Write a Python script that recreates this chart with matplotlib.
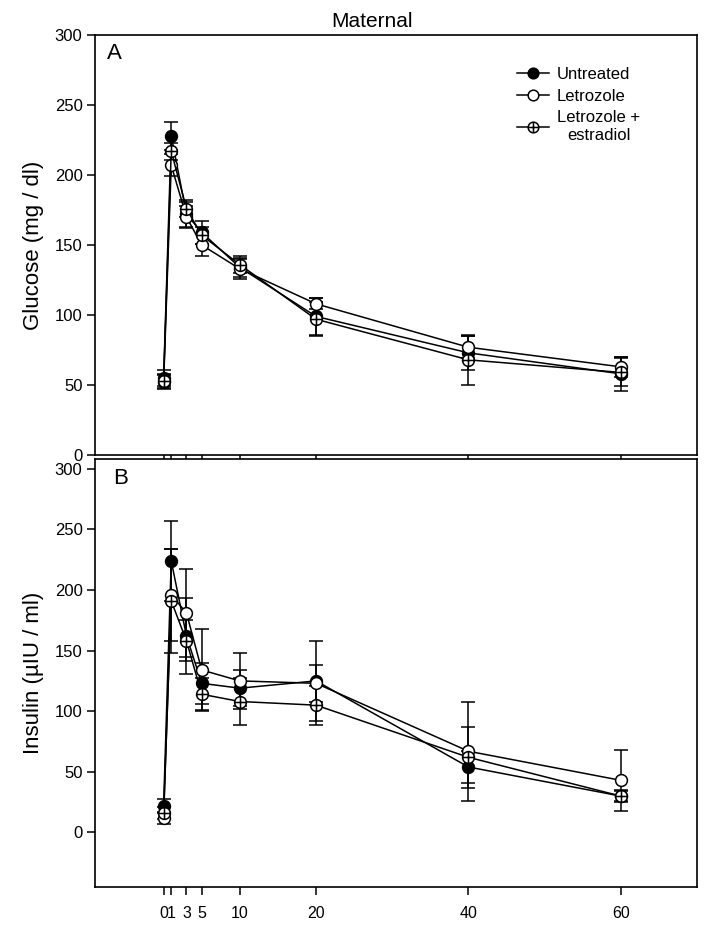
import matplotlib
matplotlib.use("Agg")
import matplotlib.pyplot as plt
from matplotlib.path import Path
from matplotlib.markers import MarkerStyle

plt.rcParams["font.family"] = ["Liberation Sans", "DejaVu Sans"]

# время (мин)
times = [0, 1, 3, 5, 10, 20, 40, 60]
tick_labels = ["0", "1", "3", "5", "10", "20", "40", "60"]

# Глюкоза (mg/dl)
glu_untreated = [55, 228, 172, 159, 134, 99, 73, 58]
glu_untreated_err = [6, 10, 9, 8, 7, 13, 12, 12]
glu_letrozole = [52, 207, 170, 150, 133, 108, 77, 63]
glu_letrozole_err = [5, 8, 8, 8, 7, 4, 8, 7]
glu_let_estr = [53, 217, 176, 157, 136, 97, 68, 59]
glu_let_estr_err = [5, 6, 6, 6, 6, 12, 18, 10]

# Инсулин (µIU/ml)
ins_untreated = [22, 224, 162, 123, 119, 125, 54, 30]
ins_untreated_err = [6, 33, 31, 17, 15, 33, 13, 4]
ins_letrozole = [12, 196, 181, 134, 125, 123, 67, 43]
ins_letrozole_err = [5, 38, 36, 34, 23, 15, 41, 25]
ins_let_estr = [16, 191, 158, 114, 108, 105, 62, 30]
ins_let_estr_err = [5, 43, 17, 13, 19, 16, 25, 5]

labels = ["Untreated", "Letrozole", "Letrozole +\nestradiol"]

# маркер "круг с крестом"
cross = Path([[-1, 0], [1, 0], [0, -1], [0, 1]],
             [Path.MOVETO, Path.LINETO, Path.MOVETO, Path.LINETO])
oplus = MarkerStyle(Path.make_compound_path(Path.unit_circle(), cross))

styles = [
    dict(marker="o", mfc="black"),
    dict(marker="o", mfc="white"),
    dict(marker=oplus, mfc="white"),
]

fig = plt.figure(figsize=(7.04, 9.26), dpi=100)
ax1 = fig.add_axes([0.135, 0.5086, 0.855, 0.4536])
ax2 = fig.add_axes([0.135, 0.0421, 0.855, 0.4622])


def draw(ax, series):
    handles = []
    for (y, err), st, lab in zip(series, styles, labels):
        ax.errorbar(times, y, yerr=err, fmt="none", ecolor="black",
                    elinewidth=1.1, capsize=5, capthick=1.1, zorder=2)
        h, = ax.plot(times, y, color="black", lw=1.1, marker=st["marker"],
                     mfc=st["mfc"], mec="black", mew=1.1, ms=8.5, zorder=3,
                     label=lab)
        handles.append(h)
    ax.set_xlim(-9, 70)
    ax.set_xticks(times)
    ax.set_yticks(range(0, 301, 50))
    ax.tick_params(direction="out", length=6, width=1.1, labelsize=12,
                   pad=3)
    for s in ax.spines.values():
        s.set_linewidth(1.2)
    return handles


handles = draw(ax1, [(glu_untreated, glu_untreated_err),
                     (glu_letrozole, glu_letrozole_err),
                     (glu_let_estr, glu_let_estr_err)])
ax1.set_ylim(0, 300)
ax1.set_xticklabels([])
ax1.set_ylabel("Glucose (mg / dl)", fontsize=16, labelpad=8)
ax1.text(0.02, 0.955, "A", transform=ax1.transAxes, fontsize=16,
         va="center", ha="left")
ax1.set_title("Maternal", fontsize=15, pad=6, x=0.46)

leg = ax1.legend(handles=handles, loc="upper left",
                 bbox_to_anchor=(0.69, 0.94), frameon=False, fontsize=12,
                 handlelength=1.9, handletextpad=0.5, labelspacing=0.4,
                 borderaxespad=0, markerscale=0.9)
leg.get_texts()[2].set_multialignment("center")

draw(ax2, [(ins_untreated, ins_untreated_err),
           (ins_letrozole, ins_letrozole_err),
           (ins_let_estr, ins_let_estr_err)])
ax2.set_ylim(-45, 308)
ax2.set_xticklabels(tick_labels)
ax2.tick_params(axis="x", pad=8, labelsize=11.5)
ax2.set_ylabel("Insulin (\u00b5IU / ml)", fontsize=16, labelpad=8)
ax2.text(0.03, 0.955, "B", transform=ax2.transAxes, fontsize=16,
         va="center", ha="left")

fig.savefig("out.png", dpi=100, facecolor="white")
